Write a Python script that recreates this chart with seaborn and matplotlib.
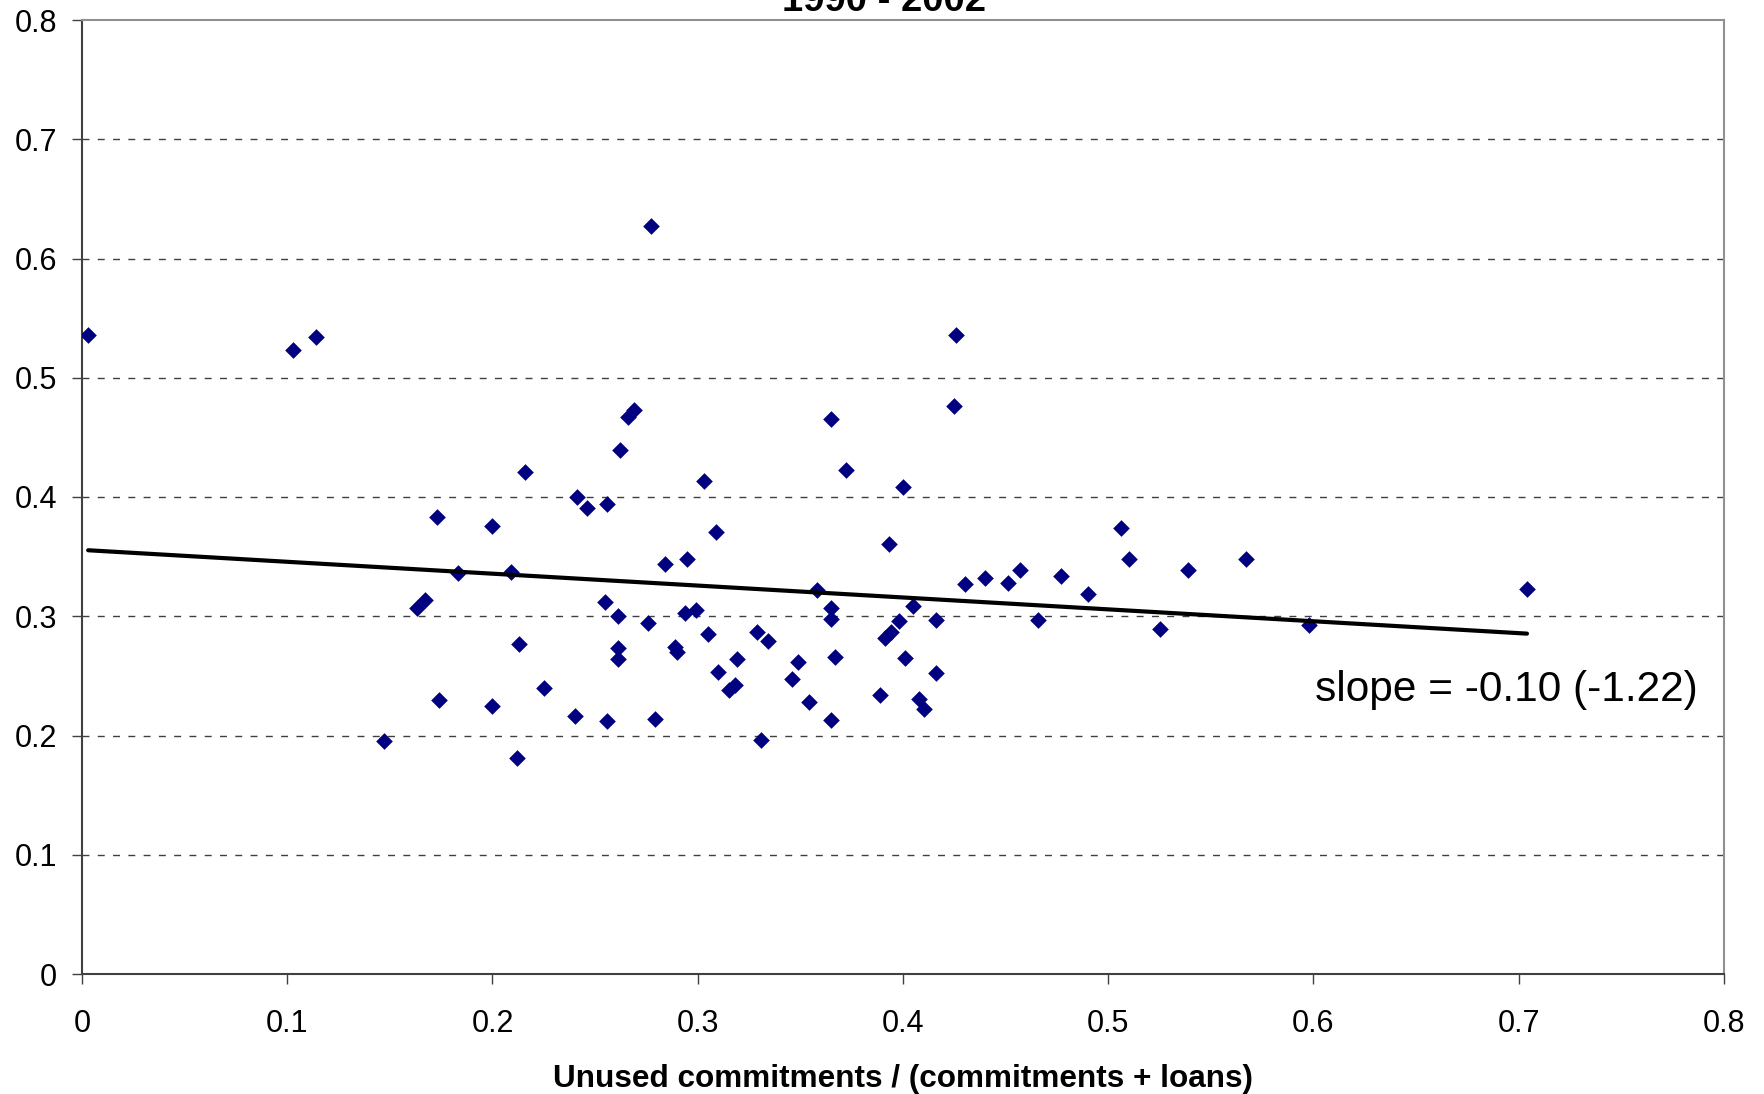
import numpy as np
import pandas as pd
import matplotlib
matplotlib.use("Agg")
import matplotlib.pyplot as plt
import seaborn as sns

x_share = [0.003, 0.103, 0.114, 0.147, 0.163, 0.167, 0.173, 0.174, 0.183, 0.200,
           0.200, 0.209, 0.212, 0.213, 0.216, 0.225, 0.240, 0.241, 0.246, 0.255,
           0.256, 0.256, 0.261, 0.261, 0.261, 0.262, 0.266, 0.269, 0.276, 0.277,
           0.279, 0.284, 0.289, 0.290, 0.294, 0.295, 0.299, 0.303, 0.305, 0.309,
           0.310, 0.315, 0.318, 0.319, 0.331, 0.329, 0.334, 0.346, 0.349, 0.354,
           0.358, 0.365, 0.365, 0.365, 0.365, 0.367, 0.372, 0.389, 0.393, 0.391,
           0.394, 0.398, 0.400, 0.401, 0.405, 0.408, 0.410, 0.416, 0.416, 0.426,
           0.425, 0.430, 0.440, 0.451, 0.457, 0.466, 0.477, 0.490, 0.506, 0.510,
           0.525, 0.539, 0.567, 0.598, 0.704]
y_value = [0.536, 0.523, 0.534, 0.195, 0.307, 0.314, 0.383, 0.230, 0.336, 0.376,
           0.225, 0.337, 0.181, 0.277, 0.421, 0.240, 0.216, 0.400, 0.391, 0.312,
           0.212, 0.394, 0.300, 0.273, 0.264, 0.439, 0.467, 0.473, 0.294, 0.627,
           0.214, 0.344, 0.274, 0.270, 0.303, 0.348, 0.305, 0.413, 0.285, 0.371,
           0.253, 0.238, 0.242, 0.264, 0.196, 0.287, 0.279, 0.247, 0.262, 0.228,
           0.322, 0.307, 0.465, 0.298, 0.213, 0.266, 0.423, 0.234, 0.361, 0.282,
           0.287, 0.296, 0.408, 0.265, 0.309, 0.231, 0.222, 0.297, 0.252, 0.536,
           0.476, 0.327, 0.332, 0.328, 0.339, 0.297, 0.334, 0.319, 0.374, 0.348,
           0.289, 0.339, 0.348, 0.293, 0.323]

x_ticks = [0, 0.1, 0.2, 0.3, 0.4, 0.5, 0.6, 0.7, 0.8]
y_ticks = [0, 0.1, 0.2, 0.3, 0.4, 0.5, 0.6, 0.7, 0.8]
tick_labels = ["0", "0.1", "0.2", "0.3", "0.4", "0.5", "0.6", "0.7", "0.8"]
title_text = "1990 - 2002"
xlabel_text = "Unused commitments / (commitments + loans)"
slope_text = "slope = -0.10 (-1.22)"

df = pd.DataFrame({"x": x_share, "y": y_value})

sns.set_theme(style="white")
plt.rcParams["font.family"] = ["Liberation Sans", "DejaVu Sans"]
plt.rcParams["text.color"] = "black"
plt.rcParams["axes.labelcolor"] = "black"

fig = plt.figure(figsize=(17.65, 10.94), dpi=100)
ax = fig.add_axes([82 / 1765, 1 - 974 / 1094, (1724 - 82) / 1765, (974 - 20) / 1094])

sns.regplot(data=df, x="x", y="y", ax=ax, ci=None, truncate=True, marker="D",
            scatter_kws=dict(s=72, color="#000080", linewidths=0, zorder=3, alpha=1),
            line_kws=dict(color="black", lw=3, zorder=4))

ax.set_xlim(0, 0.8)
ax.set_ylim(0, 0.8)
ax.set_xticks(x_ticks)
ax.set_xticklabels(tick_labels)
ax.set_yticks(y_ticks)
ax.set_yticklabels(tick_labels)
ax.tick_params(axis="both", direction="out", length=7, width=1, color="#404040",
               labelsize=22, labelcolor="black")
ax.tick_params(axis="x", pad=18, bottom=True)
ax.tick_params(axis="y", pad=11, left=True)

for yv in y_ticks[1:-1]:
    ax.axhline(yv, color="#404040", lw=1, ls=(0, (5, 6)), zorder=1)

ax.spines["left"].set_color("#404040")
ax.spines["bottom"].set_color("#404040")
ax.spines["top"].set_color("#909090")
ax.spines["right"].set_color("#909090")
for s in ax.spines.values():
    s.set_linewidth(1.5)
    s.set_visible(True)

ax.set_xlabel(xlabel_text, fontsize=22.7, fontweight="bold", labelpad=18, color="black")
ax.set_ylabel("")

fig.text(884 / 1765, 1 - 11 / 1094, title_text, ha="center", va="baseline",
         fontsize=27.5, fontweight="bold", color="black")
ax.text(0.787, 0.238, slope_text, ha="right", va="center", fontsize=30.5, color="black")

fig.savefig("out.png", dpi=100)
